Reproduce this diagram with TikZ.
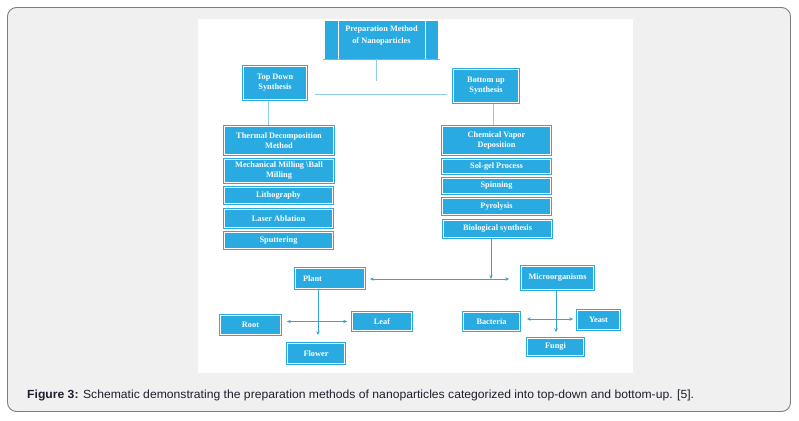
\documentclass[tikz,border=0pt]{standalone}
\usepackage{fontspec}
\setmainfont{Liberation Serif}
\newfontfamily\capfont{Liberation Sans}
\usetikzlibrary{arrows.meta}
\definecolor{bl}{RGB}{41,171,226}
\definecolor{ln}{RGB}{140,205,235}
\definecolor{ar}{RGB}{52,165,220}
\definecolor{bg}{RGB}{239,240,239}
\definecolor{fr}{RGB}{125,125,125}
\definecolor{capc}{RGB}{30,30,45}
\begin{document}
\begin{tikzpicture}[x=1pt,y=-1pt,
  bx/.style={draw=bl, fill=bl, line width=0.7pt,
    text=white, font=\fontsize{8.3}{10}\selectfont\bfseries, align=center, inner sep=0pt},
  inset/.style={draw=white, line width=0.9pt},
  conn/.style={draw=ln, line width=0.9pt},
  arw/.style={draw=ar, line width=0.8pt, -{Stealth[length=4pt,width=3.4pt]}},
  darw/.style={draw=ar, line width=0.8pt, {Stealth[length=4pt,width=3.4pt]}-{Stealth[length=4pt,width=3.4pt]}},
]
\useasboundingbox (0,0) rectangle (799,420);
% frame and panel
\draw[fr, fill=bg, rounded corners=9pt, line width=0.9pt] (7.5,7.5) rectangle (790.5,411.5);
\fill[white] (198,19) rectangle (633,372.5);

% title
\node[fill=bl, minimum width=113pt, minimum height=38pt, inner sep=0pt] (title) at (381.5,40) {};
\draw[white, line width=1.3pt] ([xshift=14pt]title.north west) -- ([xshift=14pt]title.south west);
\draw[white, line width=1.3pt] ([xshift=-13pt]title.north east) -- ([xshift=-13pt]title.south east);
\draw[black!35, line width=1pt] ([xshift=-2pt]title.south west) -- ([xshift=2pt]title.south east);
\node[text=white, font=\fontsize{8.3}{12}\selectfont\bfseries, align=center, yshift=4pt] (titletext) at (title.center) {Preparation Method\\of Nanoparticles};

% level 1
\node[bx, minimum width=65pt, minimum height=35pt] (td) at (275,83) {Top Down\\Synthesis};
\node[bx, minimum width=67pt, minimum height=35pt] (bu) at (486,86) {Bottom up\\Synthesis};

\coordinate (t1) at (376,81);
\draw[conn] (title.south -| t1) -- (t1);
\coordinate (h1) at (315,94);
\coordinate (h2) at (447,94);
\draw[conn] (h1) -- (h2);

% left column
\node[bx, minimum width=111pt, minimum height=30pt] (thermal) at (279,140.5) {Thermal Decomposition\\Method};
\node[bx, minimum width=111pt, minimum height=25pt] (mech) at (279,171) {Mechanical Milling \textbackslash Ball\\Milling};
\node[bx, minimum width=110pt, minimum height=18pt] (litho) at (278.5,195.5) {Lithography};
\node[bx, minimum width=110pt, minimum height=20pt] (laser) at (278.5,218.5) {Laser Ablation};
\node[bx, minimum width=110pt, minimum height=18pt] (sputter) at (278.5,240.5) {Sputtering};

% right column
\node[bx, minimum width=110pt, minimum height=30pt] (cvd) at (496.5,140.5) {Chemical Vapor\\Deposition};
\node[bx, minimum width=110pt, minimum height=16pt] (solgel) at (496.5,166.5) {Sol-gel Process};
\node[bx, minimum width=110pt, minimum height=17pt] (spin) at (496.5,186) {Spinning};
\node[bx, minimum width=110pt, minimum height=18pt] (pyro) at (496.5,206.5) {Pyrolysis};
\node[bx, minimum width=110pt, minimum height=19pt] (bio) at (497.5,229) {Biological synthesis};

\coordinate (xl) at (268,0);
\coordinate (xr) at (493,0);
\draw[conn] (td.south -| xl) -- (thermal.north -| xl);
\draw[conn] (bu.south -| xr) -- (cvd.north -| xr);

% bottom part
\node[bx, text width=54pt, inner xsep=8.5pt, align=left, minimum height=22pt] (plant) at (330,278.5) {Plant};
\node[bx, minimum width=74pt, minimum height=25pt] (micro) at (557.5,278) {Microorganisms};
\node[bx, minimum width=62pt, minimum height=21pt] (root) at (250.5,325) {Root};
\node[bx, minimum width=61pt, minimum height=20pt] (leaf) at (382,321.5) {Leaf};
\node[bx, minimum width=59pt, minimum height=22pt] (flower) at (316,353.5) {Flower};
\node[bx, minimum width=58pt, minimum height=20pt] (bact) at (491.5,321.5) {Bacteria};
\node[bx, minimum width=44pt, minimum height=21pt] (yeast) at (598.5,320) {Yeast};
\node[bx, minimum width=58pt, minimum height=19pt] (fungi) at (555.5,347) {Fungi};

% white inner lines of the boxes
\foreach \n in {td,bu,thermal,mech,litho,laser,sputter,cvd,solgel,spin,pyro,bio,plant,micro,root,leaf,flower,bact,yeast,fungi}
  \draw[inset] ([shift={(1.6pt,1.6pt)}]\n.south west) rectangle ([shift={(-1.6pt,-1.6pt)}]\n.north east);

\coordinate (xb) at (491,0);
\coordinate (ym) at (0,279);
\draw[arw] (bio.south -| xb) -- (xb |- ym);
\draw[darw, shorten <=4pt, shorten >=11pt] (plant.east |- ym) -- (micro.west |- ym);

\coordinate (xp) at (318,0);
\draw[arw, shorten >=7pt] (plant.south -| xp) -- (flower.north -| xp);
\draw[darw, shorten <=5pt, shorten >=4pt] (root.east |- leaf.west) -- (leaf.west);

\coordinate (xm) at (556,0);
\coordinate (yb) at (0,319);
\draw[arw, shorten >=5pt] (micro.south -| xm) -- (fungi.north -| xm);
\draw[darw, shorten <=6pt, shorten >=3pt] (bact.east |- yb) -- (yeast.west |- yb);

% caption
\node[anchor=base west, inner sep=0pt, text=capc, font=\capfont\fontsize{11.8}{13}\selectfont] (cap) at (27,398.3)
  {\scalebox{1.031}[1]{\textbf{Figure 3:} Schematic demonstrating the preparation methods of nanoparticles categorized into top-down and bottom-up. [5].}};
\end{tikzpicture}
\end{document}
